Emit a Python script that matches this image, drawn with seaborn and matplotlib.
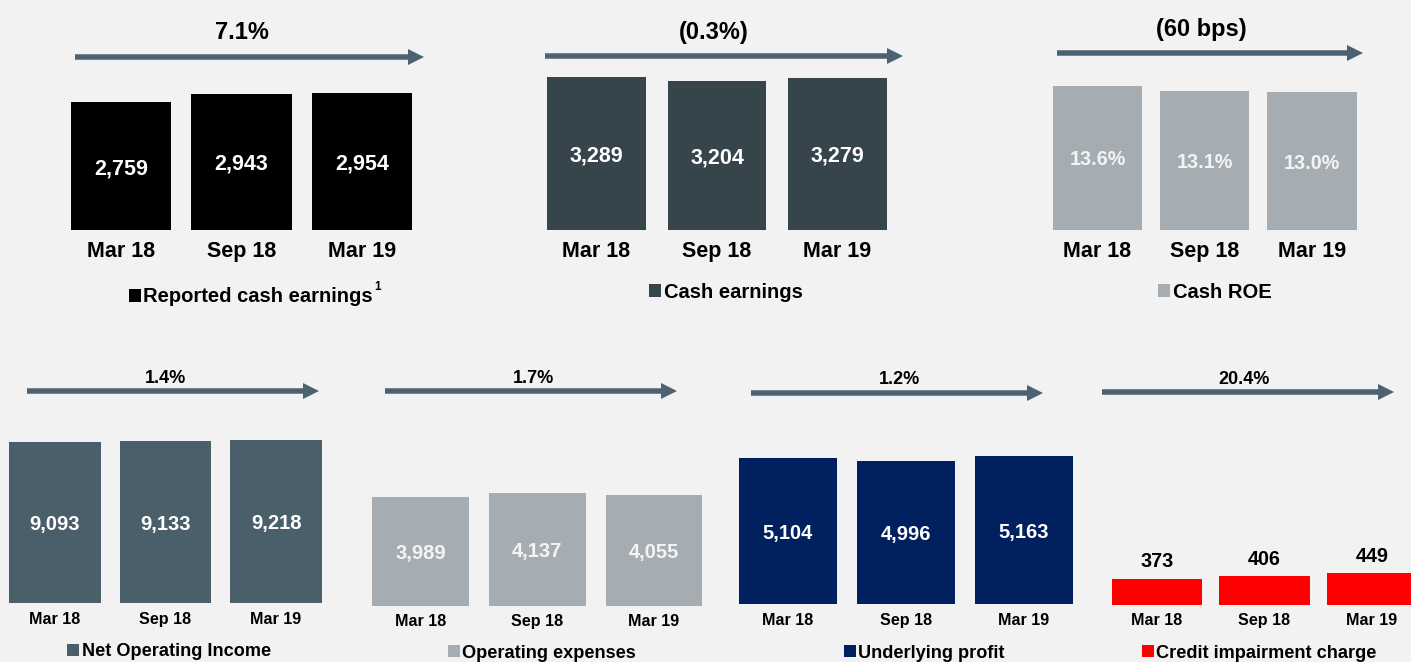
import matplotlib
matplotlib.use("Agg")
import matplotlib.pyplot as plt
import seaborn as sns
import pandas as pd
from matplotlib.patches import FancyArrow, Patch

# ---------------- data ----------------
categories = ["Mar 18", "Sep 18", "Mar 19"]
reported_cash_earnings = [2759, 2943, 2954]
cash_earnings = [3289, 3204, 3279]
cash_roe = [13.6, 13.1, 13.0]
net_operating_income = [9093, 9133, 9218]
operating_expenses = [3989, 4137, 4055]
underlying_profit = [5104, 4996, 5163]
credit_impairment = [373, 406, 449]

change_labels = ["7.1%", "(0.3%)", "(60 bps)", "1.4%", "1.7%", "1.2%", "20.4%"]
legend_labels = ["Reported cash earnings", "Cash earnings", "Cash ROE",
                 "Net Operating Income", "Operating expenses",
                 "Underlying profit", "Credit impairment charge"]

# ---------------- style ----------------
sns.set_style("white")
plt.rcParams["font.family"] = ["Liberation Sans", "DejaVu Sans"]

W, H = 1411, 662
BG = "#f2f2f2"
ARROW = "#4d6270"

fig = plt.figure(figsize=(W / 100, H / 100), dpi=100, facecolor=BG)


def fx(x):
    return x / W


def fy(y):
    return 1 - y / H


def panel(values, fmt, color, c0, c2, base_y, top_y, units_per_px, width,
          label_fs, cat_fs, cat_pad, text_color="white", above=False):
    s = (c2 - c0) / 2.0
    left, right = c0 - s / 2.0, c2 + s / 2.0
    ax = fig.add_axes([fx(left), fy(base_y), (right - left) / W, (base_y - top_y) / H])
    df = pd.DataFrame({"period": categories, "value": values})
    sns.barplot(data=df, x="period", y="value", color=color, saturation=1,
                width=width, ax=ax, linewidth=0)
    ax.set_xlim(-0.5, 2.5)
    ax.set_ylim(0, (base_y - top_y) * units_per_px)
    ax.set_facecolor("none")
    for sp in ax.spines.values():
        sp.set_visible(False)
    ax.set_yticks([])
    ax.set_xlabel("")
    ax.set_ylabel("")
    ax.tick_params(axis="x", length=0, pad=cat_pad, labelsize=cat_fs)
    for t in ax.get_xticklabels():
        t.set_fontweight("bold")
        t.set_color("black")
    for i, v in enumerate(values):
        if above:
            ax.annotate(fmt(v), (i, v), xytext=(0, 13.5), textcoords="offset points",
                        ha="center", va="center_baseline", fontsize=label_fs,
                        fontweight="bold", color="black")
        else:
            ax.text(i, v / 2.0, fmt(v), ha="center", va="center_baseline",
                    fontsize=label_fs, fontweight="bold", color=text_color)
    return ax


def arrow(x0, x1, y, shaft=5.5, head=16, head_len=16):
    fig.add_artist(FancyArrow(x0 / 100, (H - y) / 100, (x1 - x0) / 100, 0,
                              width=shaft / 100, head_width=head / 100,
                              head_length=head_len / 100,
                              length_includes_head=True,
                              transform=fig.dpi_scale_trans,
                              color=ARROW, linewidth=0))


def legend(ax, label, color, cx, cy, fs, hl):
    ax.legend(handles=[Patch(facecolor=color, edgecolor="none")], labels=[label],
              loc="center", bbox_to_anchor=(fx(cx), fy(cy)),
              bbox_transform=fig.transFigure, frameon=False,
              handlelength=hl, handleheight=hl, handletextpad=0.12,
              labelcolor="black",
              prop={"weight": "bold", "size": fs})


comma = lambda v: f"{v:,.0f}"
pct = lambda v: f"{v:.1f}%"

# ---------------- top row ----------------
ax1 = panel(reported_cash_earnings, comma, "#000000", 121, 362, 230, 0, 21.57, 0.83,
            15.5, 15.5, 8)
ax2 = panel(cash_earnings, comma, "#36444c", 596.5, 837.5, 230, 0, 21.55, 0.82,
            15.5, 15.5, 8)
ax3 = panel(cash_roe, pct, "#a5adb2", 1097.5, 1312, 230, 0, 0.0943, 0.83,
            14.2, 15.5, 8, text_color="#f4f4f4")

# ---------------- bottom row ----------------
ax4 = panel(net_operating_income, comma, "#4b5f6b", 55, 276, 603, 420, 56.5, 0.83,
            14.5, 11.6, 6.5)
ax5 = panel(operating_expenses, comma, "#a5adb2", 420.5, 654, 606, 420, 36.6, 0.83,
            14.5, 11.6, 6)
ax6 = panel(underlying_profit, comma, "#002060", 788, 1024, 604, 420, 35.0, 0.83,
            14.5, 11.6, 6.5)
ax7 = panel(credit_impairment, comma, "#ff0000", 1157, 1372, 605, 420, 14.2, 0.84,
            14.2, 11.6, 6, above=True)
for a in (ax5,):
    for t in a.texts:
        t.set_color("#f4f4f4")

# ---------------- arrows + change labels ----------------
arrows = [(75, 424, 57), (545, 903, 56), (1057, 1363, 53),
          (27, 319, 391), (385, 677, 391), (751, 1043, 393), (1102, 1394, 392)]
label_pos = [(242, 30, 17), (714, 30, 17), (1201, 27, 17),
             (165, 376, 13), (533, 376, 13), (900, 378, 13), (1244, 378, 13)]
for (x0, x1, y), (lx, ly, fs), txt in zip(arrows, label_pos, change_labels):
    arrow(x0, x1, y)
    fig.text(fx(lx), fy(ly), txt, ha="center", va="center_baseline", fontsize=fs,
             fontweight="bold", color="black")

# ---------------- legends ----------------
legend(ax1, legend_labels[0], "#000000", 251, 297, 14.5, 0.6)
fig.text(fx(378), fy(287), "1", ha="center", va="center", fontsize=8.5,
         fontweight="bold", color="black")
legend(ax2, legend_labels[1], "#36444c", 726, 292, 14.5, 0.6)
legend(ax3, legend_labels[2], "#a5adb2", 1215, 292, 14.5, 0.6)
legend(ax4, legend_labels[3], "#4b5f6b", 169, 652, 13.1, 0.66)
legend(ax5, legend_labels[4], "#a5adb2", 542, 653, 13.1, 0.66)
legend(ax6, legend_labels[5], "#002060", 924, 653, 13.1, 0.66)
legend(ax7, legend_labels[6], "#ff0000", 1259, 653, 13.1, 0.66)

fig.savefig("out.png", dpi=100, facecolor=BG)
